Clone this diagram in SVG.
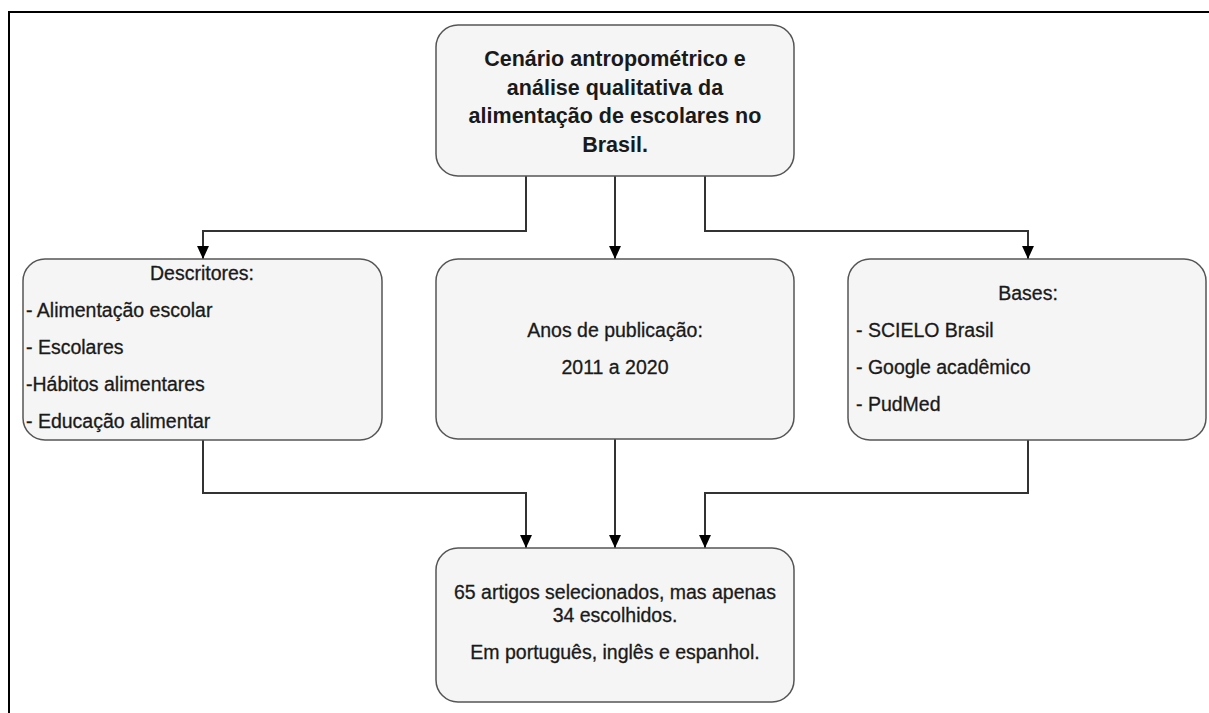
<svg xmlns="http://www.w3.org/2000/svg" width="1209" height="713" viewBox="0 0 1209 713">
<style>
.box{fill:#f5f5f5;stroke:#555;stroke-width:1.5}
.t{font-family:"Liberation Sans",Arial,sans-serif;font-size:19.5px;fill:#1a1a1a;stroke:#1a1a1a;stroke-width:0.3}
.c{text-anchor:middle}
.title{font-family:"Liberation Sans",Arial,sans-serif;font-size:21.5px;font-weight:bold;fill:#1a1a1a;text-anchor:middle}
.edge{fill:none;stroke:#333;stroke-width:2}
.frame{fill:none;stroke:#000;stroke-width:2}
</style>
<defs>
<marker id="arr" viewBox="0 0 12 11" refX="12" refY="5.5" markerWidth="13" markerHeight="12" markerUnits="userSpaceOnUse" orient="auto">
<path d="M0,0 L12,5.5 L0,11 z" fill="#000"/>
</marker>
</defs>
<rect width="1209" height="713" fill="#fff"/>
<path class="frame" d="M9,713 V12 H1209"/>
<g id="connectors">
<path class="edge" d="M526,176 V231 H203 V259" marker-end="url(#arr)"/>
<path class="edge" d="M615,176 V259" marker-end="url(#arr)"/>
<path class="edge" d="M705,176 V231 H1028 V259" marker-end="url(#arr)"/>
<path class="edge" d="M203,440 V493 H526 V548" marker-end="url(#arr)"/>
<path class="edge" d="M615,439 V548" marker-end="url(#arr)"/>
<path class="edge" d="M1028,440 V493 H705 V548" marker-end="url(#arr)"/>
</g>
<g id="title">
<rect class="box" x="436" y="25" width="358" height="151" rx="22"/>
<text class="title" x="615" y="66">Cenário antropométrico e</text>
<text class="title" x="615" y="94.5">análise qualitativa da</text>
<text class="title" x="615" y="123">alimentação de escolares no</text>
<text class="title" x="615" y="151.5">Brasil.</text>
</g>
<g id="descritores">
<rect class="box" x="23" y="259" width="359" height="181" rx="22"/>
<text class="t c" x="202" y="280">Descritores:</text>
<text class="t" x="26" y="317">- Alimentação escolar</text>
<text class="t" x="26" y="354">- Escolares</text>
<text class="t" x="26" y="391">-Hábitos alimentares</text>
<text class="t" x="26" y="428">- Educação alimentar</text>
</g>
<g id="anos">
<rect class="box" x="436" y="259" width="358" height="180" rx="22"/>
<text class="t c" x="615" y="337">Anos de publicação:</text>
<text class="t c" x="615" y="374">2011 a 2020</text>
</g>
<g id="bases">
<rect class="box" x="848" y="259" width="358" height="181" rx="22"/>
<text class="t c" x="1028" y="300">Bases:</text>
<text class="t" x="856" y="337">- SCIELO Brasil</text>
<text class="t" x="856" y="374">- Google acadêmico</text>
<text class="t" x="856" y="411">- PudMed</text>
</g>
<g id="resultado">
<rect class="box" x="436" y="548" width="358" height="154" rx="22"/>
<text class="t c" x="615" y="599">65 artigos selecionados, mas apenas</text>
<text class="t c" x="615" y="622">34 escolhidos.</text>
<text class="t c" x="615" y="659">Em português, inglês e espanhol.</text>
</g>
</svg>
